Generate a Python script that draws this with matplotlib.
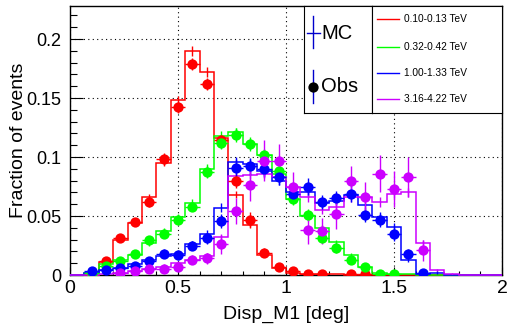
import numpy as np
import matplotlib.pyplot as plt
from matplotlib.ticker import MultipleLocator, FormatStrFormatter

plt.rcParams['font.family'] = ['Liberation Sans', 'DejaVu Sans']

# 30 bins of Disp_M1 between 0 and 2 deg
edges = np.linspace(0, 2, 31)
centers = 0.5*(edges[:-1] + edges[1:])
halfw = 0.5*(edges[1] - edges[0])

labels = ['0.10-0.13 TeV', '0.32-0.42 TeV', '1.00-1.33 TeV', '3.16-4.22 TeV']
colors = ['#ff0000', '#00ff00', '#0000ff', '#cc00ff']

# MC (histogram) per energy bin
mc_red = [0, 0, 0.011, 0.030, 0.044, 0.066, 0.095, 0.148, 0.190, 0.172,
          0.116, 0.068, 0.042, 0.017, 0.006, 0.002, 0.001, 0.001, 0.0005, 0,
          0, 0, 0, 0, 0, 0, 0, 0, 0, 0]
mc_green = [0, 0.002, 0.009, 0.013, 0.017, 0.027, 0.037, 0.049, 0.061, 0.090,
            0.118, 0.121, 0.111, 0.102, 0.086, 0.064, 0.050, 0.040, 0.028, 0.017,
            0.007, 0.002, 0.001, 0.0005, 0, 0, 0, 0, 0, 0]
mc_blue = [0, 0.002, 0.004, 0.006, 0.009, 0.013, 0.016, 0.018, 0.026, 0.035,
           0.057, 0.096, 0.094, 0.088, 0.080, 0.070, 0.070, 0.061, 0.063, 0.068,
           0.059, 0.049, 0.041, 0.013, 0.001, 0.002, 0, 0, 0, 0]
mc_purple = [0, 0, 0.001, 0.002, 0.003, 0.005, 0.007, 0.010, 0.013, 0.016,
             0.032, 0.084, 0.085, 0.086, 0.083, 0.075, 0.066, 0.055, 0.058, 0.066,
             0.066, 0.062, 0.069, 0.070, 0.027, 0.004, 0.001, 0, 0, 0]

mc_err_red = [0, 0, 0.001, 0.002, 0.002, 0.003, 0.003, 0.004, 0.004, 0.004,
              0.003, 0.003, 0.002, 0.002, 0.001, 0.001, 0, 0, 0, 0,
              0, 0, 0, 0, 0, 0, 0, 0, 0, 0]
mc_err_green = [0, 0.001, 0.001, 0.002, 0.002, 0.002, 0.003, 0.003, 0.003, 0.004,
                0.004, 0.004, 0.004, 0.004, 0.003, 0.003, 0.003, 0.002, 0.002, 0.002,
                0.001, 0.001, 0, 0, 0, 0, 0, 0, 0, 0]
mc_err_blue = [0, 0.001, 0.001, 0.001, 0.002, 0.002, 0.002, 0.002, 0.003, 0.003,
               0.004, 0.004, 0.004, 0.004, 0.004, 0.003, 0.003, 0.003, 0.003, 0.003,
               0.003, 0.003, 0.003, 0.002, 0.001, 0.001, 0, 0, 0, 0]
mc_err_purple = [0, 0, 0.001, 0.001, 0.001, 0.002, 0.002, 0.002, 0.002, 0.003,
                 0.003, 0.004, 0.004, 0.004, 0.004, 0.004, 0.004, 0.003, 0.003, 0.004,
                 0.004, 0.004, 0.004, 0.004, 0.003, 0.001, 0.001, 0, 0, 0]

# observed data points
obs_red = [0, 0, 0.012, 0.031, 0.045, 0.062, 0.098, 0.142, 0.179, 0.162,
           0.114, 0.080, 0.047, 0.019, 0.007, 0.003, 0.001, 0.001, 0, 0.001,
           0.001, 0, 0, 0, 0, 0, 0, 0, 0, 0]
obs_green = [0, 0.002, 0.008, 0.012, 0.018, 0.030, 0.035, 0.047, 0.058, 0.087,
             0.112, 0.119, 0.111, 0.102, 0.088, 0.064, 0.051, 0.031, 0.023, 0.013,
             0.007, 0.001, 0.001, 0, 0, 0, 0, 0, 0, 0]
obs_blue = [0, 0.003, 0.004, 0.006, 0.008, 0.012, 0.018, 0.017, 0.025, 0.031,
            0.046, 0.091, 0.092, 0.090, 0.083, 0.069, 0.075, 0.062, 0.065, 0.069,
            0.051, 0.047, 0.035, 0.018, 0.002, 0, 0, 0, 0, 0]
obs_purple = [0, 0, 0, 0.0015, 0.003, 0.005, 0.005, 0.007, 0.013, 0.014,
              0.026, 0.054, 0.076, 0.097, 0.097, 0.075, 0.038, 0.037, 0.052, 0.080,
              0.066, 0.086, 0.073, 0.083, 0.021, 0, 0, 0, 0, 0]

obs_err_red = [0, 0, 0.002, 0.003, 0.003, 0.004, 0.005, 0.005, 0.005, 0.005,
               0.005, 0.006, 0.006, 0.004, 0.002, 0.001, 0.001, 0.001, 0, 0.001,
               0.001, 0, 0, 0, 0, 0, 0, 0, 0, 0]
obs_err_green = [0, 0.001, 0.002, 0.002, 0.003, 0.003, 0.004, 0.004, 0.004, 0.005,
                 0.005, 0.006, 0.006, 0.005, 0.005, 0.005, 0.005, 0.004, 0.004, 0.003,
                 0.002, 0.001, 0.001, 0, 0, 0, 0, 0, 0, 0]
obs_err_blue = [0, 0.001, 0.002, 0.002, 0.003, 0.003, 0.004, 0.004, 0.004, 0.005,
                0.006, 0.007, 0.007, 0.007, 0.007, 0.006, 0.007, 0.006, 0.006, 0.007,
                0.006, 0.006, 0.006, 0.004, 0.002, 0, 0, 0, 0, 0]
obs_err_purple = [0, 0, 0, 0.002, 0.002, 0.003, 0.003, 0.003, 0.004, 0.005,
                  0.008, 0.011, 0.013, 0.017, 0.014, 0.012, 0.012, 0.011, 0.013, 0.012,
                  0.013, 0.016, 0.015, 0.017, 0.009, 0, 0, 0, 0, 0]

mcs = [mc_red, mc_green, mc_blue, mc_purple]
mc_errs = [mc_err_red, mc_err_green, mc_err_blue, mc_err_purple]
obss = [obs_red, obs_green, obs_blue, obs_purple]
obs_errs = [obs_err_red, obs_err_green, obs_err_blue, obs_err_purple]

fig = plt.figure(figsize=(5.08, 3.33), dpi=100)
ax = fig.add_axes([70/508, 58/333, 432/508, 269.5/333])

for mc, err, c in zip(mcs, mc_errs, colors):
    mc = np.array(mc)
    ax.stairs(mc, edges, color=c, lw=1.1, zorder=3, clip_on=False)
    ax.errorbar(centers, mc, yerr=err, fmt='none', ecolor=c, elinewidth=1, zorder=3)

for ob, err, c in zip(obss, obs_errs, colors):
    ob = np.array(ob)
    err = np.array(err)
    m = ob > 0
    ax.errorbar(centers[m], ob[m], xerr=halfw, yerr=err[m], fmt='o', color=c,
                ms=7.4, mew=0, elinewidth=1, capsize=0, zorder=4)

ax.set_xlim(0, 2)
ax.set_ylim(0, 0.2284)
ax.xaxis.set_major_locator(MultipleLocator(0.5))
ax.xaxis.set_minor_locator(MultipleLocator(0.1))
ax.yaxis.set_major_locator(MultipleLocator(0.05))
ax.yaxis.set_minor_locator(MultipleLocator(0.01))
ax.xaxis.set_major_formatter(FormatStrFormatter('%g'))
ax.yaxis.set_major_formatter(FormatStrFormatter('%g'))
ax.tick_params(axis='both', which='both', direction='in', width=0.8)
ax.tick_params(axis='x', which='major', length=5.8, pad=3.5, labelsize=14)
ax.tick_params(axis='x', which='minor', length=2.9)
ax.tick_params(axis='y', which='major', length=9.4, pad=6, labelsize=13)
ax.tick_params(axis='y', which='minor', length=4.7)
ax.grid(True, which='major', color='black', lw=0.8, ls=(0, (1, 3)))
ax.set_axisbelow(True)
for s in ax.spines.values():
    s.set_linewidth(1)

ax.set_xlabel('Disp_M1 [deg]', fontsize=14)
ax.set_ylabel('Fraction of events', fontsize=14)
ax.xaxis.set_label_coords(0.5, -0.115)
ax.yaxis.set_label_coords(-0.099, 0.5)

# legend box 1: MC / Obs
lg1 = fig.add_axes([304/508, 220/333, 68/508, 107.5/333])
lg1.set_xlim(0, 1)
lg1.set_ylim(0, 1)
lg1.set_xticks([])
lg1.set_yticks([])
lg1.plot([0.132, 0.132], [0.605, 0.902], color='#0000cc', lw=1)
lg1.plot([0.044, 0.235], [0.744, 0.744], color='#0000cc', lw=1)
lg1.text(0.25, 0.744, 'MC', fontsize=14.5, va='center', ha='left')
lg1.plot([0.132, 0.132], [0.093, 0.40], color='#0000cc', lw=1)
lg1.plot([0.132], [0.242], 'o', color='black', ms=7.4, mew=0)
lg1.text(0.25, 0.242, 'Obs', fontsize=14.5, va='center', ha='left')

# legend box 2: energy bins
lg2 = fig.add_axes([372/508, 220/333, 130/508, 107.5/333])
lg2.set_xlim(0, 1)
lg2.set_ylim(0, 1)
lg2.set_xticks([])
lg2.set_yticks([])
ys = [0.872, 0.617, 0.375, 0.127]
for y, lab, c in zip(ys, labels, colors):
    lg2.plot([0.038, 0.208], [y, y], color=c, lw=1)
    lg2.text(0.246, y, lab, fontsize=7.3, va='center', ha='left')

fig.savefig('out.png', dpi=100)
